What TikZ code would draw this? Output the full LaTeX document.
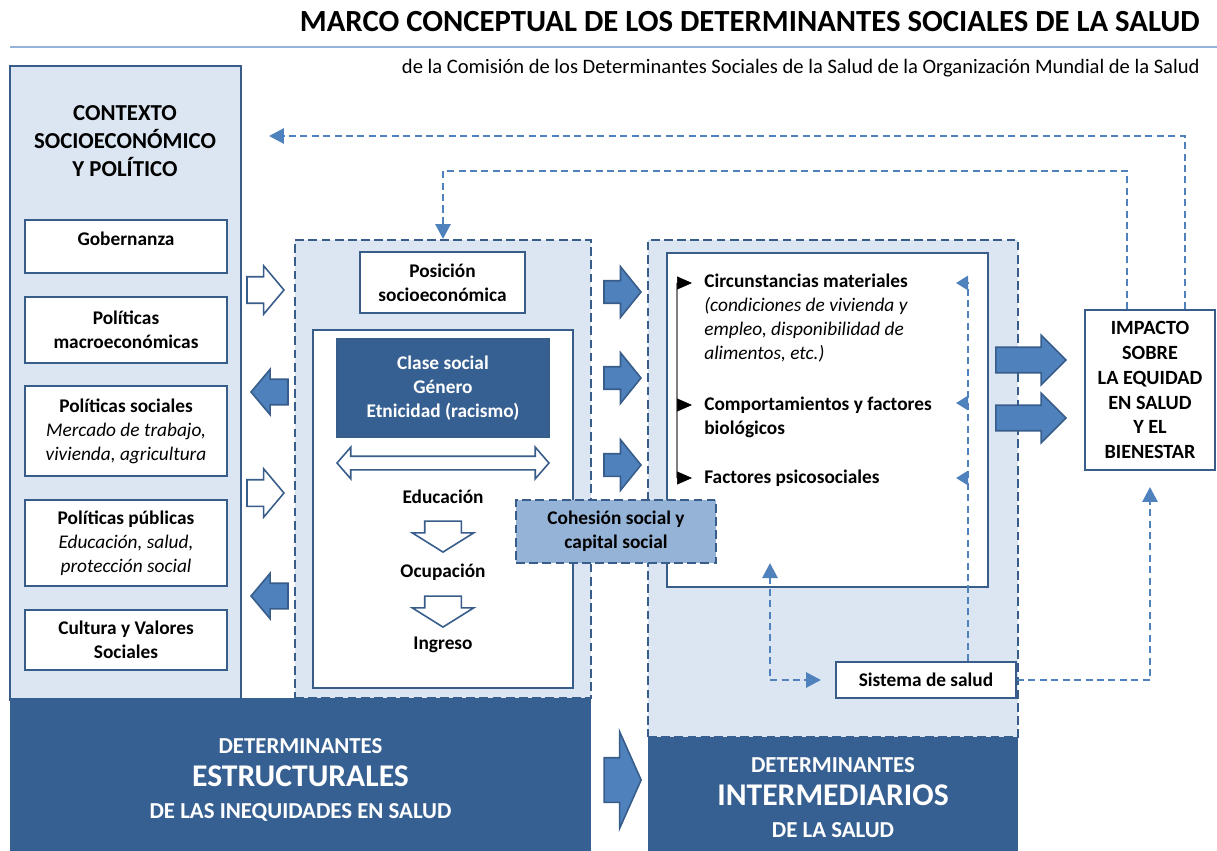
\documentclass[tikz,border=0pt]{standalone}
\usepackage{fontspec}
\setmainfont{Carlito}
\usepackage{tikz}
\usetikzlibrary{shapes, arrows.meta, positioning, calc}
\tikzset{
  block/.style = {draw=boxLine, line width=1.1pt, fill=white, align=center, inner sep=2pt,
    font=\fontsize{11}{13.6}\selectfont\bfseries},
  zone/.style = {draw=boxLine, line width=1.1pt, fill=paleFill},
  dashzone/.style = {zone, dash pattern=on 5pt off 2.5pt},
  fb/.style = {draw=fbLine, line width=1.6pt, dash pattern=on 4pt off 2.5pt,
    -{Triangle[length=0.3cm,width=0.3cm]}},
  fbShort/.style = {fb, -{Triangle[length=0.24cm,width=0.28cm]}},
  fat/.style = {single arrow, draw=boxLine, fill=arrowFill, line width=0.9pt, inner xsep=0pt},
  hollow/.style = {fat, fill=white}
}

\begin{document}
\begin{tikzpicture}[x=0.02cm, y=-0.02cm]
  \definecolor{boxLine}{HTML}{385D8A}
  \definecolor{darkFill}{HTML}{376092}
  \definecolor{paleFill}{HTML}{DCE6F2}
  \definecolor{arrowFill}{HTML}{4F81BD}
  \definecolor{midFill}{HTML}{95B3D7}
  \definecolor{fbLine}{HTML}{4F81BD}
  \tikzset{
    titleStyle/.style={font=\fontsize{17.5}{20}\selectfont\bfseries, inner sep=0pt},
    subStyle/.style={font=\fontsize{11.7}{13}\selectfont, inner sep=0pt},
    headStyle/.style={font=\fontsize{13}{15.9}\selectfont\bfseries, align=center},
    plain/.style={font=\fontsize{11}{13.6}\selectfont\bfseries, align=center},
    item/.style={font=\fontsize{11}{13.6}\selectfont\bfseries, align=left, anchor=west, inner sep=0pt},
    bottomStyle/.style={fill=darkFill, text=white, align=center,
      font=\fontsize{13}{18.5}\selectfont\bfseries},
    bulletTip/.style={black, line width=0.4pt, -{Triangle[length=0.3cm,width=0.26cm]}},
    sideArrow/.style={minimum height=0.74cm, minimum width=0.94cm, inner ysep=0.25cm,
      single arrow head extend=0.22cm, single arrow tip angle=100, anchor=tip},
    pushArrow/.style={fat, minimum height=0.74cm, minimum width=0.98cm, inner ysep=0.21cm,
      single arrow head extend=0.28cm, single arrow tip angle=102, anchor=tip},
    impArrow/.style={fat, minimum height=1.4cm, minimum width=0.96cm, inner ysep=0.24cm,
      single arrow head extend=0.24cm, single arrow tip angle=90, anchor=tip},
    downArrow/.style={hollow, minimum height=0.62cm, minimum width=1.2cm, inner ysep=0.35cm,
      single arrow head extend=0.25cm, single arrow tip angle=116, anchor=tip, rotate=-90}
  }
  \def\px{0.02cm}

  \useasboundingbox (0,0) rectangle (1217,851);

  % title
  \node[titleStyle, anchor=east] (title) at (1200,22)
    {MARCO CONCEPTUAL DE LOS DETERMINANTES SOCIALES DE LA SALUD};
  \draw[midFill, line width=1.7pt] (10,47) -- (1217,47);
  \node[subStyle, anchor=east] (subtitle) at (1200,68)
    {de la Comisión de los Determinantes Sociales de la Salud de la Organización Mundial de la Salud};

  % zones
  \node[zone, minimum width={231*\px}, minimum height={634*\px}] (ctx) at (125.5,383) {};
  \node[dashzone, minimum width={296*\px}, minimum height={458*\px}] (mid) at (443,469) {};
  \node[dashzone, minimum width={370*\px}, minimum height={497*\px}] (inter) at (833,488.5) {};

  % bottom bands
  \node[bottomStyle, minimum width={581*\px}, minimum height={153*\px}] (estr) at (300.5,774.5) {};
  \node[bottomStyle, text depth=0pt] (estrText) at (300.5,779)
    {DETERMINANTES\\{\fontsize{18}{18}\selectfont ESTRUCTURALES}\\DE LAS INEQUIDADES EN SALUD};
  \node[bottomStyle, minimum width={370*\px}, minimum height={114*\px}] (interBand) at (833,794) {};
  \node[bottomStyle] (interText) at (833,798)
    {DETERMINANTES\\{\fontsize{18}{18}\selectfont INTERMEDIARIOS}\\DE LA SALUD};
  \node[pushArrow, minimum width=1.9cm, inner ysep=0.43cm, single arrow head extend=0.52cm,
    single arrow tip angle=132] (bigPush) at (642,780) {};

  % context column
  \node[headStyle] (ctxTitle) at (125,141) {CONTEXTO\\SOCIOECONÓMICO\\Y POLÍTICO};
  \node[block, minimum width={202*\px}, minimum height={53*\px}, text depth=0.3cm] (gob) at (126,246.5) {Gobernanza};
  \node[block, minimum width={202*\px}, minimum height={66*\px}] (macro) at (126,330)
    {Políticas\\macroeconómicas};
  \node[block, minimum width={202*\px}, minimum height={90*\px}] (soc) at (126,431)
    {Políticas sociales\\{\mdseries\itshape Mercado de trabajo,}\\{\mdseries\itshape vivienda, agricultura}};
  \node[block, minimum width={202*\px}, minimum height={86*\px}] (pub) at (126,543)
    {Políticas públicas\\{\mdseries\itshape Educación, salud,}\\{\mdseries\itshape protección social}};
  \node[block, minimum width={202*\px}, minimum height={60*\px}] (cult) at (126,640)
    {Cultura y Valores\\Sociales};

  % arrows between context and position
  \node[hollow, sideArrow] (hollowA) at (285,290) {};
  \node[fat, sideArrow, minimum width=0.88cm, inner ysep=0.24cm, single arrow head extend=0.2cm, rotate=180] (leftA) at (250,392) {};
  \node[hollow, sideArrow] (hollowB) at (285,493) {};
  \node[fat, sideArrow, minimum width=0.88cm, inner ysep=0.24cm, single arrow head extend=0.2cm, rotate=180] (leftB) at (250,596) {};

  % socioeconomic position
  \node[block, minimum width={165*\px}, minimum height={61*\px}] (pos) at (442.5,282.5)
    {Posición\\socioeconómica};
  \node[block, minimum width={260*\px}, minimum height={358*\px}] (strat) at (443,509) {};
  \node[block, fill=darkFill, text=white, minimum width={212*\px}, minimum height={98*\px}] (clase) at (443,388)
    {\mdseries\bfseries Clase social\\Género\\Etnicidad (racismo)};
  \node[double arrow, draw=boxLine, fill=white, line width=0.9pt, inner xsep=0pt, inner ysep=0.12cm,
    minimum height=4.24cm, minimum width=0.6cm, double arrow head extend=0.18cm,
    double arrow tip angle=98] (eduLink) at (443,463) {};
  \node[plain] (edu) at (443,497) {Educación};
  \node[downArrow] (downA) at (443,553) {};
  \node[plain] (ocu) at (443,572) {Ocupación};
  \node[downArrow] (downB) at (443,628) {};
  \node[plain] (ing) at (443,645) {Ingreso};

  % arrows towards intermediary determinants
  \node[pushArrow] (pushA) at (642,292) {};
  \node[pushArrow] (pushB) at (642,378) {};
  \node[pushArrow] (pushC) at (642,465) {};

  % intermediary determinants
  \node[block, minimum width={321*\px}, minimum height={334*\px}] (proc) at (827.5,420) {};
  \node[item] (circ) at (704,318)
    {Circunstancias materiales\\{\mdseries\itshape (condiciones de vivienda y}\\{\mdseries\itshape empleo, disponibilidad de}\\{\mdseries\itshape alimentos, etc.)}};
  \node[item] (comp) at (704,417) {Comportamientos y factores\\biológicos};
  \node[item] (psico) at (704,478) {Factores psicosociales};
  \coordinate (bulA) at (677,283);
  \coordinate (bulB) at (677,405);
  \coordinate (bulC) at (677,478);
  \draw[gray, line width=0.8pt] (bulA) -- (bulC);
  \draw[bulletTip] (bulA) -- ++(15,0);
  \draw[bulletTip] (bulB) -- ++(15,0);
  \draw[bulletTip] (bulC) -- ++(15,0);

  \node[block, dash pattern=on 5pt off 2.5pt, fill=midFill, minimum width={200*\px}, minimum height={63*\px}] (cohesion) at (616,531.5)
    {Cohesión social y\\capital social};

  \node[block, minimum width={180*\px}, minimum height={36*\px}] (sis) at (926,680) {Sistema de salud};

  % impact
  \node[block, font=\fontsize{11.5}{14.2}\selectfont\bfseries, minimum width={130*\px}, minimum height={160*\px}] (imp) at (1150,390)
    {IMPACTO\\SOBRE\\LA EQUIDAD\\EN SALUD\\Y EL\\BIENESTAR};
  \node[impArrow] (impA) at (1067,360) {};
  \node[impArrow] (impB) at (1067,418) {};

  % feedback loops
  \coordinate (loopA) at (0,136);
  \coordinate (loopB) at (0,171);
  \coordinate (fbTop) at (968,283);
  \coordinate (fbMid) at (968,403);
  \coordinate (fbLow) at (968,478);
  \coordinate (upTip) at (770,563);
  \draw[fb, shorten >=0.54cm] ([xshift=0.7cm]imp.north) |- (ctx.east |- loopA);
  \draw[fb] ([xshift=-0.46cm]imp.north) |- (mid.north |- loopB) -- (mid.north);
  \draw[fb, shorten >=0.32cm] (sis.east) -| (imp.south);
  \draw[fb, {Triangle[length=0.3cm,width=0.3cm]}-{Triangle[length=0.3cm,width=0.3cm]}, shorten >=0.28cm] (upTip) |- (sis.west);
  \draw[fbShort] (sis.north -| fbTop) -- (fbTop) -- ++(-12,0);
  \draw[fbShort] (fbMid) -- ++(-12,0);
  \draw[fbShort] (fbLow) -- ++(-12,0);
\end{tikzpicture}
\end{document}
